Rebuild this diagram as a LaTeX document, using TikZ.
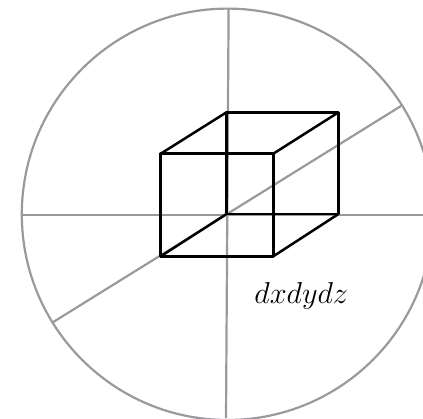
\documentclass[tikz,border=0pt]{standalone}
\definecolor{axisgray}{HTML}{999A9E}
\tikzset{axisline/.style={draw=axisgray,line width=2.2pt},boxline/.style={draw=black,line width=2.5pt}}
\begin{document}
\begin{tikzpicture}[x=1pt,y=-1pt,line join=round]
\useasboundingbox (0,0) rectangle (423,418);
\coordinate (c) at (227.5,214.3);
\draw[axisline] (c) circle (205.7);
\coordinate (t) at (228.6,8.5);\coordinate (b) at (226,418);
\coordinate (l) at (21.7,214.7);\coordinate (r) at (423,214.7);
\coordinate (ne) at (401,106);\coordinate (sw) at (53.3,322);
\draw[axisline] (t)--(b);
\draw[axisline] (l)--(r);
\draw[axisline] (ne)--(sw);
\coordinate (a1) at (160.7,153.7);\coordinate (a2) at (273.3,153.7);\coordinate (a3) at (273.3,256.3);\coordinate (a4) at (160.7,256.3);
\coordinate (b1) at (226.5,112.3);\coordinate (b2) at (338.5,112.3);\coordinate (b3) at (338.5,214);\coordinate (b4) at (226.5,214);
\draw[boxline] (a1)--(a2)--(a3)--(a4)--cycle;
\draw[boxline] (b1)--(b2)--(b3)--(b4)--cycle;
\draw[boxline] (a1)--(b1) (a2)--(b2) (a3)--(b3) (a4)--(b4);
\node[scale=2.1,inner sep=0pt] (lab) at (301.3,295.5) {\Large $dxdydz$};
\end{tikzpicture}
\end{document}
